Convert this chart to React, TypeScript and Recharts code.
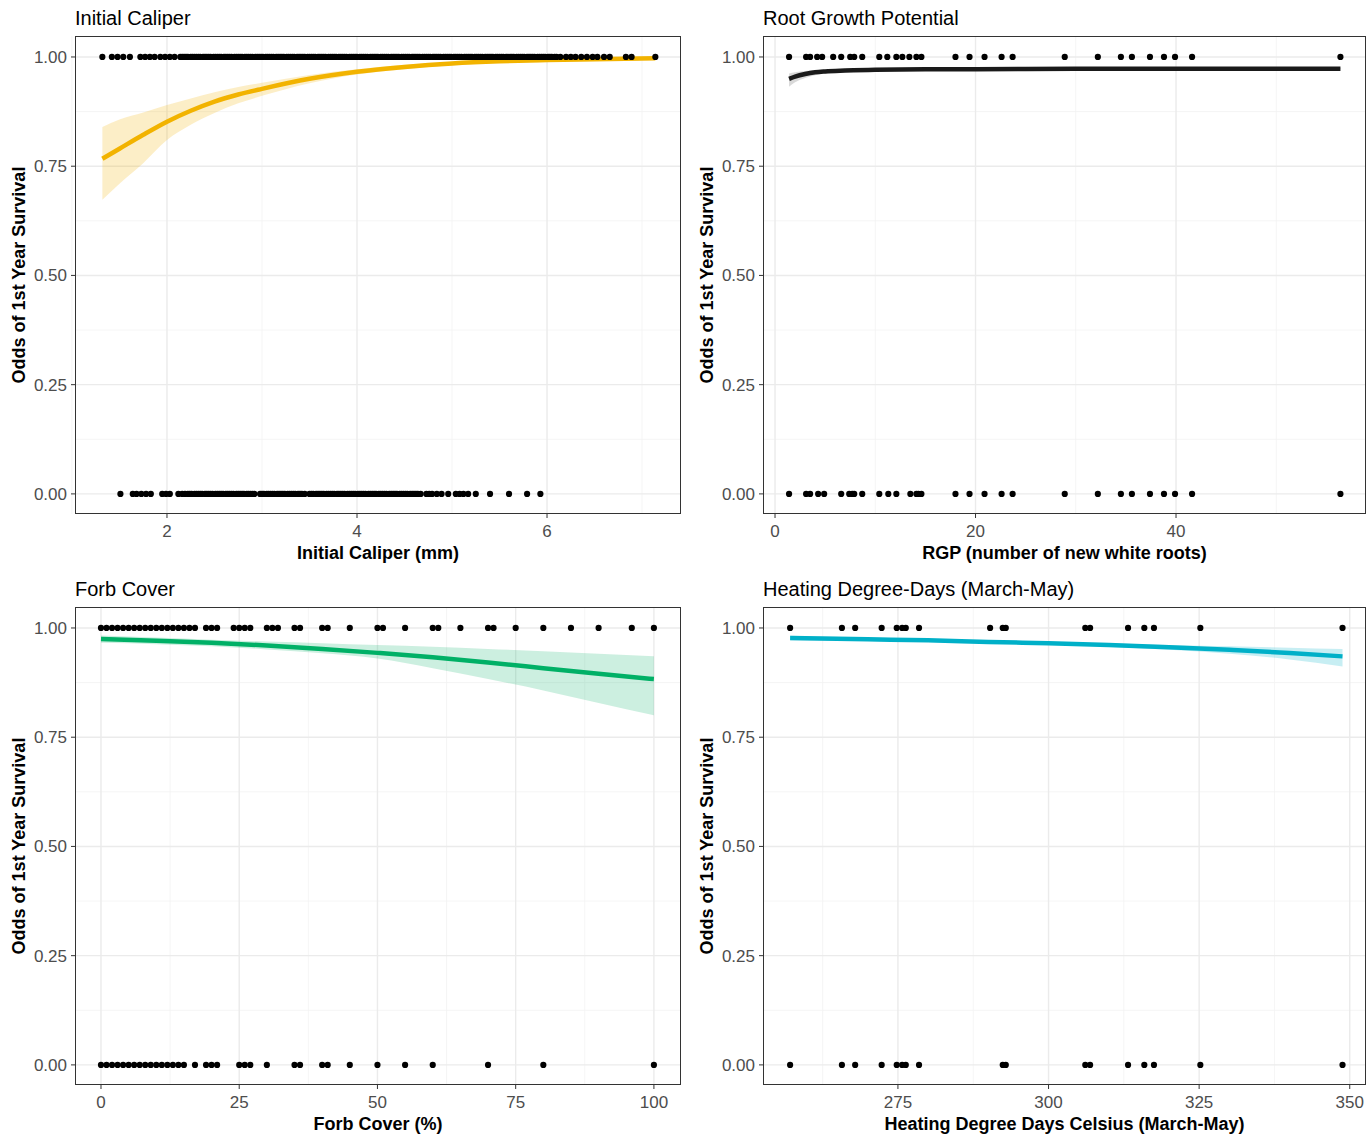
import React from 'react';
import { ComposedChart, XAxis, YAxis, CartesianGrid, Line, Area, Scatter } from 'recharts';

// ---- shared y axis ----
const Y_TICKS = [0, 0.25, 0.5, 0.75, 1];
const Y_MINOR = [0.125, 0.375, 0.625, 0.875];

// ---- Initial Caliper ----
const caliperAlive = [
  1.32, 1.42, 1.48, 1.54, 1.61, 1.72, 1.77, 1.82, 1.87, 1.93, 1.98, 2.03, 2.08, 2.14,
  2.16, 2.18, 2.20, 2.22, 2.25, 2.27, 2.29, 2.31, 2.33, 2.35, 2.38, 2.40, 2.42, 2.44, 2.46,
  2.49, 2.51, 2.53, 2.55, 2.57, 2.60, 2.62, 2.64, 2.66, 2.68, 2.71, 2.73, 2.75, 2.77, 2.79,
  2.82, 2.84, 2.86, 2.88, 2.90, 2.93, 2.95, 2.97, 2.99, 3.01, 3.04, 3.06, 3.08, 3.10, 3.12,
  3.15, 3.17, 3.19, 3.21, 3.23, 3.26, 3.28, 3.30, 3.32, 3.34, 3.37, 3.39, 3.41, 3.43, 3.45,
  3.48, 3.50, 3.52, 3.54, 3.56, 3.59, 3.61, 3.63, 3.65, 3.67, 3.70, 3.72, 3.74, 3.76, 3.78,
  3.81, 3.83, 3.85, 3.87, 3.89, 3.92, 3.94, 3.96, 3.98, 4.00, 4.03, 4.05, 4.07, 4.09, 4.11,
  4.14, 4.16, 4.18, 4.20, 4.22, 4.25, 4.27, 4.29, 4.31, 4.33, 4.36, 4.38, 4.40, 4.42, 4.44,
  4.47, 4.49, 4.51, 4.53, 4.55, 4.58, 4.60, 4.62, 4.64, 4.66, 4.69, 4.71, 4.73, 4.75, 4.77,
  4.80, 4.82, 4.84, 4.86, 4.88, 4.91, 4.93, 4.95, 4.97, 4.99, 5.02, 5.04, 5.06, 5.08, 5.10,
  5.13, 5.15, 5.17, 5.19, 5.21, 5.24, 5.26, 5.28, 5.30, 5.32, 5.35, 5.37, 5.39, 5.41, 5.43,
  5.46, 5.48, 5.50, 5.52, 5.54, 5.57, 5.59, 5.61, 5.63, 5.65, 5.68, 5.70, 5.72, 5.74, 5.76,
  5.79, 5.81, 5.83, 5.85, 5.87, 5.90, 5.92, 5.94, 5.96, 5.98, 6.01, 6.03, 6.05, 6.08, 6.10,
  6.14, 6.20, 6.25, 6.30, 6.36, 6.42, 6.48, 6.53, 6.60, 6.66, 6.83, 6.89, 7.14,
];
const caliperDead = [
  1.51, 1.64, 1.68, 1.73, 1.78, 1.83, 1.95, 1.99, 2.03, 2.12, 2.16, 2.19,
  2.22, 2.24, 2.26, 2.29, 2.31, 2.33, 2.35, 2.37, 2.40, 2.42, 2.44, 2.46, 2.48, 2.51, 2.53,
  2.55, 2.57, 2.59, 2.62, 2.64, 2.66, 2.68, 2.70, 2.73, 2.75, 2.77, 2.79, 2.81, 2.84, 2.86,
  2.88, 2.90, 2.92,
  2.98, 3.00, 3.02, 3.05, 3.07, 3.09, 3.11, 3.13, 3.16, 3.18, 3.20, 3.22, 3.24, 3.27, 3.29,
  3.31, 3.33, 3.35, 3.38, 3.40, 3.42, 3.45,
  3.50, 3.52, 3.54, 3.57, 3.59, 3.61, 3.63, 3.65, 3.68, 3.70, 3.72, 3.74, 3.76, 3.79, 3.81,
  3.83, 3.85, 3.87, 3.90, 3.92, 3.94, 3.96, 3.98, 4.01, 4.03, 4.05, 4.07, 4.09, 4.12, 4.14,
  4.16, 4.18, 4.20, 4.23, 4.25, 4.27, 4.29, 4.31, 4.34, 4.36, 4.38, 4.40, 4.42, 4.45, 4.47,
  4.49, 4.51, 4.53, 4.56, 4.58, 4.60, 4.62, 4.64, 4.67,
  4.73, 4.76, 4.79, 4.84, 4.89, 4.96, 5.04, 5.08, 5.12, 5.17, 5.25, 5.40, 5.60, 5.79, 5.93,
];
const caliperX = [1.32, 1.5, 1.75, 2.0, 2.25, 2.5, 2.75, 3.0, 3.5, 4.0, 4.5, 5.0, 5.5, 6.0, 6.5, 7.14];
const caliperFit = [0.767, 0.79, 0.822, 0.852, 0.877, 0.898, 0.914, 0.927, 0.95, 0.966, 0.977, 0.985, 0.99, 0.993, 0.995, 0.997];
const caliperLow = [0.673, 0.71, 0.757, 0.81, 0.845, 0.872, 0.894, 0.911, 0.94, 0.96, 0.972, 0.981, 0.987, 0.991, 0.993, 0.995];
const caliperHigh = [0.84, 0.857, 0.873, 0.89, 0.905, 0.919, 0.931, 0.941, 0.959, 0.972, 0.982, 0.988, 0.992, 0.995, 0.997, 0.998];

// ---- Root Growth Potential ----
const rgpAlive = [
  1.4, 3.1, 3.5, 4.2, 4.7, 5.8, 6.6, 7.5, 7.9, 8.7, 10.4, 11.2, 12.1, 12.7, 13.4, 14.1, 14.6,
  18.0, 19.4, 20.9, 22.6, 23.7, 28.9, 32.2, 34.5, 35.6, 37.4, 38.8, 39.9, 41.6, 56.4,
];
const rgpDead = [
  1.4, 3.1, 3.5, 4.3, 4.9, 6.6, 7.4, 7.7, 7.9, 8.7, 10.4, 11.3, 12.1, 13.5, 14.1, 14.3, 14.6,
  18.0, 19.4, 20.9, 22.6, 23.7, 28.9, 32.2, 34.5, 35.6, 37.4, 38.8, 39.9, 41.6, 56.4,
];
const rgpX = [1.4, 2, 3, 4, 5, 7, 10, 15, 20, 30, 40, 56.4];
const rgpFit = [0.95, 0.955, 0.961, 0.965, 0.967, 0.969, 0.971, 0.972, 0.972, 0.973, 0.973, 0.973];
const rgpLow = [0.932, 0.942, 0.952, 0.958, 0.962, 0.966, 0.968, 0.97, 0.971, 0.971, 0.972, 0.972];
const rgpHigh = [0.962, 0.965, 0.968, 0.97, 0.971, 0.972, 0.973, 0.974, 0.974, 0.974, 0.974, 0.975];

// ---- Forb Cover ----
const forbAlive = [
  0, 1, 2, 3, 4, 5, 6, 7, 8, 9, 10, 11, 12, 13, 14, 15, 16, 17, 19, 20, 21, 24, 25, 26, 27,
  30, 31, 32, 35, 36, 40, 41, 45, 50, 51, 55, 60, 61, 65, 70, 71, 75, 80, 85, 90, 96, 100,
];
const forbDead = [
  0, 1, 2, 3, 4, 5, 6, 7, 8, 9, 10, 11, 12, 13, 14, 15, 17, 19, 20, 21, 25, 26, 27, 30,
  35, 36, 40, 41, 45, 50, 55, 60, 70, 80, 100,
];
const forbX = [0, 10, 20, 30, 40, 50, 60, 70, 80, 90, 100];
const forbFit = [0.975, 0.971, 0.966, 0.96, 0.952, 0.943, 0.933, 0.921, 0.908, 0.895, 0.883];
const forbLow = [0.966, 0.963, 0.958, 0.951, 0.942, 0.93, 0.908, 0.883, 0.857, 0.828, 0.8];
const forbHigh = [0.983, 0.978, 0.973, 0.969, 0.965, 0.961, 0.957, 0.952, 0.947, 0.941, 0.935];

// ---- Heating Degree-Days ----
const hddAlive = [
  257.1, 265.7, 267.9, 272.3, 274.8, 275.7, 276.3, 278.5, 290.3, 292.4, 292.9,
  306.1, 306.9, 313.2, 315.9, 317.5, 325.2, 348.8,
];
const hddDead = [
  257.1, 265.7, 267.9, 272.3, 274.8, 275.7, 276.3, 278.5, 292.4, 292.9,
  306.1, 306.9, 313.2, 315.9, 317.5, 325.2, 348.8,
];
const hddX = [257.1, 270, 280, 290, 300, 310, 320, 330, 340, 348.8];
const hddFit = [0.977, 0.974, 0.972, 0.968, 0.965, 0.961, 0.956, 0.95, 0.943, 0.935];
const hddLow = [0.972, 0.97, 0.968, 0.965, 0.962, 0.957, 0.95, 0.941, 0.928, 0.912];
const hddHigh = [0.982, 0.978, 0.975, 0.971, 0.968, 0.965, 0.961, 0.958, 0.955, 0.952];

const FONT = '"Liberation Sans", Arial, sans-serif';
const PANEL_H = 570;

const Dot = (props: any) => <circle cx={props.cx} cy={props.cy} r={3.1} fill="#000" />;

interface PanelProps {
  left: number;
  top: number;
  width: number;
  title: string;
  xLabel: string;
  xDomain: [number, number];
  xTicks: number[];
  xMinor: number[];
  color: string;
  band: string;
  bandOpacity: number;
  alive: number[];
  dead: number[];
  fx: number[];
  fit: number[];
  low: number[];
  high: number[];
}

const Panel = (p: PanelProps) => {
  const fitData = p.fx.map((x, i) => ({ x, y: p.fit[i], range: [p.low[i], p.high[i]] }));
  const points = [
    ...p.alive.map((x) => ({ x, y: 1 })),
    ...p.dead.map((x) => ({ x, y: 0 })),
  ];
  const right = p.width === 690 ? 9 : 1;
  const plotW = p.width - 75 - right;
  return (
    <div style={{ position: 'absolute', left: p.left, top: p.top, width: p.width, height: PANEL_H, fontFamily: FONT }}>
      <div style={{ position: 'absolute', left: 75, top: 6, fontSize: 20, lineHeight: '24px', color: '#000' }}>{p.title}</div>
      <div
        style={{
          position: 'absolute', left: 19, top: 275, transform: 'translate(-50%, -50%) rotate(-90deg)',
          whiteSpace: 'nowrap', fontSize: 18, fontWeight: 'bold', color: '#000',
        }}
      >
        Odds of 1st Year Survival
      </div>
      <ComposedChart
        width={p.width}
        height={PANEL_H}
        margin={{ top: 36, right, bottom: 0, left: 0 }}
        style={{ fontFamily: FONT }}
      >
        <CartesianGrid verticalValues={p.xMinor} horizontalValues={Y_MINOR} stroke="#F3F3F3" strokeWidth={0.8} />
        <CartesianGrid verticalValues={p.xTicks} horizontalValues={Y_TICKS} stroke="#EBEBEB" strokeWidth={1.4} />
        <XAxis
          type="number"
          dataKey="x"
          domain={p.xDomain}
          ticks={p.xTicks}
          allowDataOverflow
          height={56}
          axisLine={false}
          tickSize={4}
          tickMargin={7}
          tickLine={{ stroke: '#333333' }}
          tick={{ fill: '#4D4D4D', fontSize: 17 }}
        />
        <YAxis
          type="number"
          domain={[-0.046, 1.048]}
          ticks={Y_TICKS}
          allowDataOverflow
          width={75}
          axisLine={false}
          tickSize={4}
          tickMargin={4}
          tickLine={{ stroke: '#333333' }}
          tick={{ fill: '#4D4D4D', fontSize: 17 }}
          tickFormatter={(v: number) => v.toFixed(2)}
        />
        <Area
          data={fitData}
          dataKey="range"
          type="monotone"
          stroke="none"
          fill={p.band}
          fillOpacity={p.bandOpacity}
          isAnimationActive={false}
        />
        <Line
          data={fitData}
          dataKey="y"
          type="monotone"
          stroke={p.color}
          strokeWidth={4.5}
          dot={false}
          activeDot={false}
          isAnimationActive={false}
        />
        <Scatter data={points} dataKey="y" shape={Dot} isAnimationActive={false} />
      </ComposedChart>
      <div
        style={{
          position: 'absolute', left: 75, top: 36, width: plotW, height: 478,
          border: '1px solid #333333', boxSizing: 'border-box', pointerEvents: 'none',
        }}
      />
      <div
        style={{
          position: 'absolute', left: 75, width: plotW, top: 542, lineHeight: '22px', textAlign: 'center',
          fontSize: 18, fontWeight: 'bold', color: '#000', whiteSpace: 'nowrap',
        }}
      >
        {p.xLabel}
      </div>
    </div>
  );
};

export default function App() {
  return (
    <div style={{ position: 'absolute', left: 0, top: 0, width: 1367, height: 1136, background: '#fff', overflow: 'hidden' }}>
      <Panel
        left={0} top={0} width={690}
        title="Initial Caliper" xLabel="Initial Caliper (mm)"
        xDomain={[1.032, 7.41]} xTicks={[2, 4, 6]} xMinor={[1, 3, 5, 7]}
        color="#F2B300" band="#F2B300" bandOpacity={0.22}
        alive={caliperAlive} dead={caliperDead}
        fx={caliperX} fit={caliperFit} low={caliperLow} high={caliperHigh}
      />
      <Panel
        left={688} top={0} width={679}
        title="Root Growth Potential" xLabel="RGP (number of new white roots)"
        xDomain={[-1.2, 58.95]} xTicks={[0, 20, 40]} xMinor={[10, 30, 50]}
        color="#1A1A1A" band="#808080" bandOpacity={0.3}
        alive={rgpAlive} dead={rgpDead}
        fx={rgpX} fit={rgpFit} low={rgpLow} high={rgpHigh}
      />
      <Panel
        left={0} top={571} width={690}
        title="Forb Cover" xLabel="Forb Cover (%)"
        xDomain={[-4.7, 104.9]} xTicks={[0, 25, 50, 75, 100]} xMinor={[12.5, 37.5, 62.5, 87.5]}
        color="#00B066" band="#00B066" bandOpacity={0.2}
        alive={forbAlive} dead={forbDead}
        fx={forbX} fit={forbFit} low={forbLow} high={forbHigh}
      />
      <Panel
        left={688} top={571} width={679}
        title="Heating Degree-Days (March-May)" xLabel="Heating Degree Days Celsius (March-May)"
        xDomain={[252.6, 352.7]} xTicks={[275, 300, 325, 350]} xMinor={[262.5, 287.5, 312.5, 337.5]}
        color="#00B0C8" band="#00B0C8" bandOpacity={0.22}
        alive={hddAlive} dead={hddDead}
        fx={hddX} fit={hddFit} low={hddLow} high={hddHigh}
      />
    </div>
  );
}
